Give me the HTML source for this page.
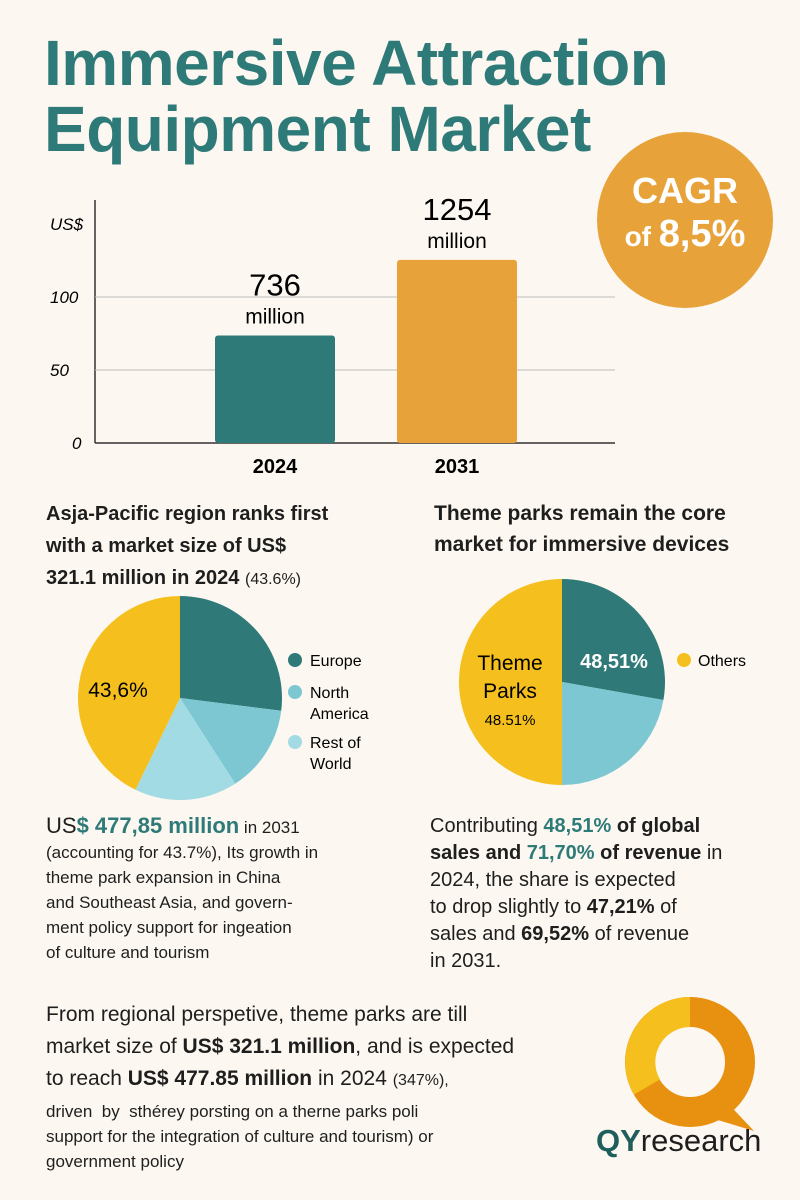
<!DOCTYPE html>
<html><head><meta charset="utf-8"><style>
body{margin:0;width:800px;height:1200px;background:#fcf8f1;font-family:"Liberation Sans",sans-serif;position:relative;overflow:hidden;color:#1e1e1e}
.a{position:absolute;margin:0}
h1{position:absolute;left:44px;top:30px;margin:0;font-size:64px;line-height:66px;color:#2e7a78;font-weight:bold;letter-spacing:-0.5px}
.t{font-size:20px;line-height:26px}
.b{font-weight:bold}.tl{color:#2e7a78;font-weight:bold}
</style></head><body>
<h1>Immersive Attraction<br>Equipment Market</h1>
<div class="a" style="left:597px;top:132px;width:176px;height:176px;border-radius:50%;background:#e8a23a;color:#fff;text-align:center;font-weight:bold">
<div style="margin-top:38px;font-size:36px;line-height:42px">CAGR</div><div style="font-size:38px;line-height:44px"><span style="font-size:28px">of </span>8,5%</div></div>
<svg class="a" style="left:0;top:180px" width="640" height="300" id="bc"></svg>
<div class="a t b" style="left:46px;top:498px;font-size:20px;line-height:32px">Asja-Pacific region ranks first<br>with a market size of US$<br>321.1 million in 2024 <span style="font-weight:normal;font-size:16px">(43.6%)</span></div>
<div class="a t b" style="left:434px;top:498px;font-size:21px;line-height:31px">Theme parks remain the core<br>market for immersive devices</div>
<svg class="a" style="left:0;top:560px" width="800" height="250" id="pies"></svg>
<div class="a" style="left:46px;top:813px;font-size:17px;line-height:25px">
<span style="font-size:22px">US<span class="tl">$ 477,85 million</span></span> in 2031<br>(accounting for 43.7%), Its growth in<br>theme park expansion in China<br>and Southeast Asia, and govern-<br>ment policy support for ingeation<br>of culture and tourism</div>
<div class="a" style="left:430px;top:813px;font-size:20px;line-height:27px">
Contributing <span class="tl">48,51%</span> <b>of global<br>sales and</b> <span class="tl">71,70%</span> <b>of revenue</b> in<br>2024, the share is expected<br>to drop slightly to <b>47,21%</b> of<br>sales and <b>69,52%</b> of revenue<br>in 2031.</div>
<div class="a" style="left:46px;top:999px;font-size:21px;line-height:32px">
From regional perspetive, theme parks are till<br>market size of <b>US$ 321.1 million</b>, and is expected<br>to reach <b>US$ 477.85 million</b> in 2024 <span style="font-size:16px">(347%),</span>
<div style="font-size:17px;line-height:25px;margin-top:2px">driven &nbsp;by &nbsp;sthérey porsting on a therne parks poli<br>support for the integration of culture and tourism) or<br>government policy</div></div>
<svg class="a" style="left:590px;top:995px" width="200" height="165">
<circle cx="100" cy="67" r="50" fill="none" stroke="#e8900f" stroke-width="30"/>
<path d="M100 17 A50 50 0 0 0 57 92" fill="none" stroke="#f5c01d" stroke-width="30"/>
<path d="M130 100 L164 136 L118 122 Z" fill="#e8900f"/>
<text x="6" y="156" font-size="31" font-family="Liberation Sans" fill="#1e1e1e"><tspan fill="#1f5e5c" font-weight="bold">QY</tspan>research</text>
</svg>
<script>
const years=['2024','2031'];
const values=[73.6,125.4];
const labels=['736','1254'];
const ticks=[0,50,100];
const NS='http://www.w3.org/2000/svg';
function mk(p,t,a){const e=document.createElementNS(NS,t);for(const k in a)e.setAttribute(k,a[k]);p.appendChild(e);return e;}
const bc=document.getElementById('bc');
const y0=263,k=1.46;const ys=v=>y0-v*k;
const xs=i=>215+i*182;
mk(bc,'line',{x1:95,y1:20,x2:95,y2:y0,stroke:'#333','stroke-width':1.5});
mk(bc,'line',{x1:95,y1:y0,x2:615,y2:y0,stroke:'#333','stroke-width':1.5});
let u=mk(bc,'text',{x:50,y:50,'font-size':17,'font-style':'italic'});u.textContent='US$';
ticks.forEach(t=>{
 if(t>0){const g=mk(bc,'line',{x1:95,y1:ys(t),x2:615,y2:ys(t),stroke:'#bbb'});}
 const tx=mk(bc,'text',{x:t?50:72,y:ys(t)+6,'font-size':17,'font-style':'italic'});tx.textContent=t;
 
});
const cols=['#2e7a78','#e8a23a'];
values.forEach((v,i)=>{
 const r=mk(bc,'rect',{x:xs(i),y:ys(v),width:120,height:v*k,fill:cols[i],rx:3});
 
 const l=mk(bc,'text',{x:xs(i)+60,y:ys(v)-40,'font-size':31,'text-anchor':'middle'});l.textContent=labels[i];
 
 const m=mk(bc,'text',{x:xs(i)+60,y:ys(v)-12,'font-size':21,'text-anchor':'middle'});m.textContent='million';
 const c=mk(bc,'text',{x:xs(i)+60,y:y0+30,'font-size':20,'font-weight':'bold','text-anchor':'middle'});c.textContent=years[i];
 
});
const regions=['Europe','North America','Rest of World','Asia-Pacific'];
const regionShares=[27,13.9,16.3,42.8];
const regionColors=['#2f7a78','#7cc7d2','#a3dbe4','#f5c01d'];
const apps=['Others','Other devices','Theme Parks'];
const appShares=[27.8,22.2,50];
const appColors=['#2f7a78','#7cc7d2','#f5c01d'];
const ps=document.getElementById('pies');
function pie(cx,cy,r,vals,colors,names){
 const tot=vals.reduce((a,b)=>a+b,0);let a=0;
 vals.forEach((v,i)=>{const a1=a+v/tot*2*Math.PI;
  const p=(t)=>[cx+r*Math.sin(t),cy-r*Math.cos(t)];const [x0,y0]=p(a),[x1,y1]=p(a1);
  const s=mk(ps,'path',{d:`M${cx},${cy}L${x0},${y0}A${r},${r} 0 ${a1-a>Math.PI?1:0} 1 ${x1},${y1}Z`,fill:colors[i]});
  a=a1;});
}
pie(180,138,102,regionShares,regionColors,regions);
pie(562,122,103,appShares,appColors,apps);
function txt(x,y,s,t,o){const e=mk(ps,'text',Object.assign({x:x,y:y,'font-size':s},o||{}));e.textContent=t;return e;}
txt(118,137,21,'43,6%',{'text-anchor':'middle'});
[['Europe',106,0],['North',138,1],['Rest of',188,2]].forEach(([t,y,i])=>{const c=mk(ps,'circle',{cx:295,cy:y-6,r:7,fill:regionColors[i]});const l=txt(310,y,16,t);});
txt(310,159,16,'America');txt(310,209,16,'World');
txt(510,110,21,'Theme',{'text-anchor':'middle'});txt(510,138,21,'Parks',{'text-anchor':'middle'});txt(510,165,15,'48.51%',{'text-anchor':'middle'});
txt(614,108,20,'48,51%',{'text-anchor':'middle',fill:'#fff','font-weight':'bold'});
mk(ps,'circle',{cx:684,cy:100,r:7,fill:'#f5c01d'});txt(698,106,16,'Others');
</script>
</body></html>
